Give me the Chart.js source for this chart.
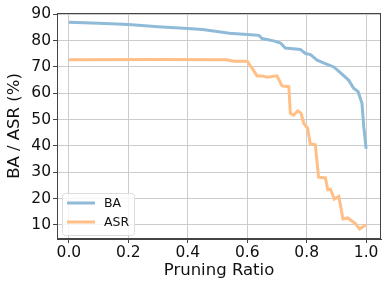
<!DOCTYPE html>
<html>
<head>
<meta charset="utf-8">
<script src="https://cdn.jsdelivr.net/npm/chart.js@4"></script>
<style>
  html, body { margin: 0; padding: 0; background: #fff; }
  #wrap { width: 390px; height: 293px; }
</style>
</head>
<body>
<div id="wrap"><canvas id="chart" width="390" height="293"></canvas></div>
<script>
// data
const baX  = [0.0, 0.1, 0.2, 0.3, 0.4, 0.45, 0.54, 0.6, 0.639, 0.65, 0.689, 0.712, 0.728, 0.779, 0.796, 0.813, 0.835, 0.869, 0.891, 0.913, 0.941, 0.958, 0.973, 0.986, 0.992, 1.0];
const baY  = [87.0, 86.6, 86.1, 85.3, 84.6, 84.2, 82.8, 82.3, 82.0, 80.8, 79.9, 79.1, 77.2, 76.6, 75.1, 74.7, 72.6, 71.0, 70.0, 67.8, 65.0, 61.9, 60.6, 56.2, 47.3, 38.9];
const asrX = [0.0, 0.3, 0.53, 0.555, 0.6, 0.617, 0.633, 0.65, 0.667, 0.7, 0.717, 0.74, 0.745, 0.756, 0.77, 0.781, 0.79, 0.803, 0.812, 0.829, 0.84, 0.863, 0.871, 0.88, 0.893, 0.908, 0.922, 0.938, 0.964, 0.978, 1.0];
const asrY = [72.7, 72.8, 72.7, 72.2, 72.2, 69.4, 66.6, 66.6, 66.1, 66.6, 62.8, 62.5, 52.4, 51.7, 53.3, 52.4, 48.6, 46.7, 40.8, 40.4, 28.1, 27.8, 23.3, 23.5, 19.8, 20.8, 12.2, 12.6, 10.5, 8.4, 10.0];
const xTicks = [0.0, 0.2, 0.4, 0.6, 0.8, 1.0];
const yTicks = [10, 20, 30, 40, 50, 60, 70, 80, 90];
const seriesNames = ['BA', 'ASR'];

const font = 'DejaVu Sans';
const pts = (xs, ys) => xs.map((x, i) => ({ x: x, y: ys[i] }));

// box around the plot + legend in the lower left corner
const framePlugin = {
    id: 'frame',
    afterDraw(chart) {
        const ctx = chart.ctx;
        const a = chart.chartArea;
        ctx.save();
        ctx.strokeStyle = '#444';
        ctx.lineWidth = 1;
        ctx.strokeRect(a.left + 0.5, a.top + 0.5, a.right - a.left - 1, a.bottom - a.top - 1);

        // legend
        const lx = a.left + 5, ly = a.bottom - 46, lw = 72, lh = 42;
        ctx.fillStyle = 'rgba(255,255,255,0.8)';
        ctx.strokeStyle = '#dcdcdc';
        ctx.beginPath();
        ctx.roundRect(lx + 0.5, ly + 0.5, lw, lh, 3);
        ctx.fill();
        ctx.stroke();
        ctx.font = '12.5px "' + font + '"';
        ctx.textBaseline = 'middle';
        chart.data.datasets.forEach((ds, i) => {
            const yy = ly + 10 + i * 19;
            ctx.strokeStyle = ds.borderColor;
            ctx.lineWidth = 3;
            ctx.beginPath();
            ctx.moveTo(lx + 5, yy);
            ctx.lineTo(lx + 33, yy);
            ctx.stroke();
            ctx.fillStyle = '#111';
            ctx.fillText(ds.label, lx + 42, yy + 1);
        });
        ctx.restore();
    }
};

const ctx = document.getElementById('chart').getContext('2d');
new Chart(ctx, {
    type: 'scatter',
    data: {
        datasets: [{
            label: seriesNames[0],
            data: pts(baX, baY),
            showLine: true,
            borderColor: '#8fbbd9',
            borderWidth: 3,
            pointRadius: 0,
            tension: 0
        }, {
            label: seriesNames[1],
            data: pts(asrX, asrY),
            showLine: true,
            borderColor: '#ffbf86',
            borderWidth: 3,
            pointRadius: 0,
            tension: 0
        }]
    },
    options: {
        responsive: false,
        animation: false,
        layout: { padding: { top: 13, right: 9, left: 0, bottom: 12 } },
        plugins: {
            legend: { display: false },
            tooltip: { enabled: false }
        },
        scales: {
            x: {
                type: 'linear',
                min: -0.04,
                max: 1.05,
                afterBuildTicks: s => { s.ticks = xTicks.map(v => ({ value: v })); },
                afterFit: s => { s.height = 42; },
                grid: { color: '#cccccc', lineWidth: 1, tickLength: 4, tickColor: '#444' },
                border: { color: '#444' },
                ticks: {
                    color: '#111',
                    font: { family: font, size: 15.5 },
                    padding: 1,
                    maxRotation: 0,
                    callback: v => v.toFixed(1)
                },
                title: {
                    display: true,
                    text: 'Pruning Ratio',
                    color: '#111',
                    font: { family: font, size: 16.5 },
                    padding: { top: 0, bottom: 0 }
                }
            },
            y: {
                min: 4.6,
                max: 90.5,
                afterBuildTicks: s => { s.ticks = yTicks.map(v => ({ value: v })); },
                afterFit: s => { s.width = 57; },
                grid: { color: '#cccccc', lineWidth: 1, tickLength: 4, tickColor: '#444' },
                border: { color: '#444' },
                ticks: {
                    color: '#111',
                    font: { family: font, size: 15.5 },
                    padding: 2,
                    callback: v => String(v)
                },
                title: {
                    display: true,
                    text: 'BA / ASR (%)',
                    color: '#111',
                    font: { family: font, size: 16.5 },
                    padding: { top: 5, bottom: 0 }
                }
            }
        }
    },
    plugins: [framePlugin]
});
</script>
</body>
</html>
